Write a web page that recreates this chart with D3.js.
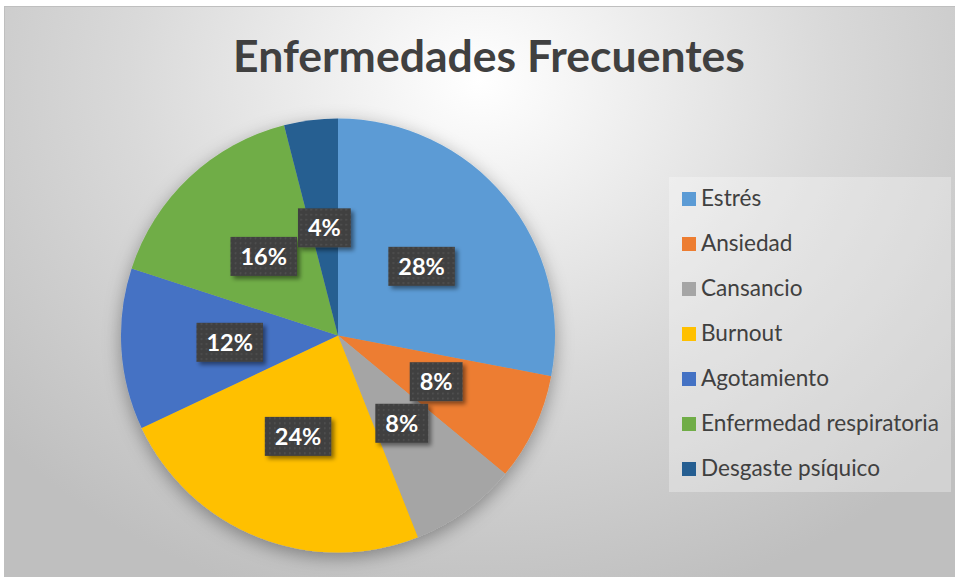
<!DOCTYPE html>
<html><head><meta charset="utf-8">
<script src="https://cdn.jsdelivr.net/npm/d3@7/dist/d3.min.js"></script>
<style>html,body{margin:0;padding:0;background:#fff;}svg{display:block;}</style>
</head><body>
<svg id="chart" width="955" height="577"></svg>
<script>
const categories = ["Estrés","Ansiedad","Cansancio","Burnout","Agotamiento","Enfermedad respiratoria","Desgaste psíquico"];
const values = [28, 8, 8, 24, 12, 16, 4];
const colors = ["#5B9BD5","#ED7D31","#A5A5A5","#FFC000","#4472C4","#70AD47","#255E91"];
const title = "Enfermedades Frecuentes";

const W = 955, H = 577;
const svg = d3.select("#chart");
const defs = svg.append("defs");

const bg = defs.append("radialGradient").attr("id","bg")
  .attr("gradientUnits","userSpaceOnUse").attr("cx",480).attr("cy",80).attr("r",640)
  .attr("gradientTransform","translate(480,80) scale(1,0.85) translate(-480,-80)");
bg.append("stop").attr("offset","0").attr("stop-color","#ffffff");
bg.append("stop").attr("offset","0.55").attr("stop-color","#d9d9d9");
bg.append("stop").attr("offset","1").attr("stop-color","#bfbfbf");

const sh = defs.append("filter").attr("id","pieShadow").attr("x","-30%").attr("y","-30%").attr("width","160%").attr("height","160%");
sh.append("feDropShadow").attr("dx",0).attr("dy",5).attr("stdDeviation",9).attr("flood-color","#000").attr("flood-opacity",0.35);
const lsh = defs.append("filter").attr("id","lblShadow").attr("x","-30%").attr("y","-30%").attr("width","160%").attr("height","160%");
lsh.append("feDropShadow").attr("dx",3).attr("dy",3).attr("stdDeviation",2).attr("flood-color","#000").attr("flood-opacity",0.45);

const pat = defs.append("pattern").attr("id","dots").attr("patternUnits","userSpaceOnUse")
  .attr("width",5).attr("height",5);
pat.append("rect").attr("width",5).attr("height",5).attr("fill","#404040");
pat.append("rect").attr("x",1).attr("y",1).attr("width",1.5).attr("height",1.5).attr("fill","#555555");

// background frame
svg.append("rect").attr("x",4.5).attr("y",6.5).attr("width",W-4).attr("height",H-6)
  .attr("fill","url(#bg)").attr("stroke","#bfbfbf").attr("stroke-width",1);

// title
const t = svg.append("text").attr("x",489).attr("y",72).attr("text-anchor","middle")
  .attr("font-family","Lato, 'Open Sans', sans-serif").attr("font-weight","bold")
  .attr("font-size",40).attr("fill","#404040").text(title);
const tw = t.node().getComputedTextLength();
t.attr("font-size", 40 * 512 / tw);

// pie
const cx = 338, cy = 335.5, R = 217;
const pie = d3.pie().sort(null).value(d => d)(values);
const arc = d3.arc().innerRadius(0).outerRadius(R);
const labelArc = d3.arc().innerRadius(R*0.5).outerRadius(R*0.5);
const color = d3.scaleOrdinal().domain(categories).range(colors);

const g = svg.append("g").attr("transform",`translate(${cx},${cy})`);
g.append("g").attr("filter","url(#pieShadow)")
  .selectAll("path").data(pie).join("path")
  .attr("d",arc).attr("fill",(d,i)=>color(categories[i]));

const total = d3.sum(values);
const fmt = d3.format(".0%");
const lbl = g.selectAll("g.lbl").data(pie).join("g").attr("class","lbl")
  .attr("transform",d=>`translate(${labelArc.centroid(d)})`);
lbl.each(function(d){
  const sel = d3.select(this);
  const txt = fmt(d.data/total);
  const tt = sel.append("text").attr("text-anchor","middle").attr("y",8.5)
    .attr("font-family","Lato, 'Open Sans', sans-serif").attr("font-weight","bold")
    .attr("font-size",23.5).attr("fill","#ffffff").text(txt);
  const w = tt.node().getComputedTextLength();
  sel.insert("rect","text").attr("x",-(w/2+10)).attr("y",-19.5).attr("width",w+20).attr("height",39)
    .attr("fill","url(#dots)").attr("filter","url(#lblShadow)");
});

// legend
svg.append("rect").attr("x",669).attr("y",177).attr("width",282).attr("height",315)
  .attr("fill","#ffffff").attr("fill-opacity",0.3);
const leg = svg.append("g");
const y = d3.scalePoint().domain(categories).range([199,469]);
const items = leg.selectAll("g").data(categories).join("g")
  .attr("transform",d=>`translate(682,${y(d)})`);
items.append("rect").attr("x",0).attr("y",-7).attr("width",14).attr("height",14).attr("fill",d=>color(d));
items.append("text").attr("x",19).attr("y",7)
  .attr("font-family","Lato, 'Open Sans', sans-serif").attr("font-size",20).attr("fill","#404040").text(d=>d);
let maxw = 0; items.selectAll("text").each(function(){maxw=Math.max(maxw,this.getComputedTextLength());});
items.selectAll("text").attr("font-size", 20*238/maxw);
</script>
</body></html>
